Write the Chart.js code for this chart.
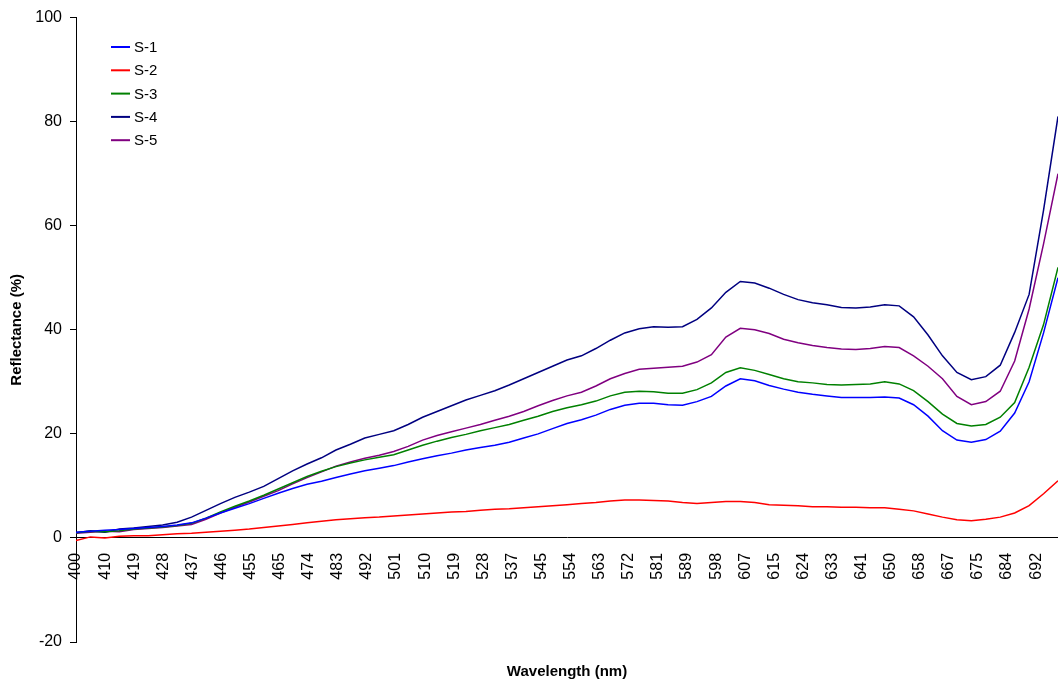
<!DOCTYPE html>
<html>
<head>
<meta charset="utf-8">
<title>Reflectance spectra</title>
<script src="https://cdn.jsdelivr.net/npm/chart.js@4.4.1/dist/chart.umd.min.js"></script>
<style>
  html, body { margin: 0; padding: 0; background: #fff; }
  #wrap { width: 1058px; height: 683px; }
</style>
</head>
<body>
<div id="wrap"><canvas id="spectra" width="1058" height="683"></canvas></div>
<script>
// wavelength labels printed under the axis, one per category step
const TICK_LABELS = [400, 410, 419, 428, 437, 446, 455, 465, 474, 483, 492, 501, 510, 519, 528, 537,
                     545, 554, 563, 572, 581, 589, 598, 607, 615, 624, 633, 641, 650, 658, 667, 675, 684, 692];
// samples run evenly from the first label to the right edge (a bit past 692)
const X_END = 33.75;

const SERIES_NAMES = ['S-1', 'S-2', 'S-3', 'S-4', 'S-5'];
const SERIES_COLORS = ['#0000ff', '#ff0000', '#008000', '#000080', '#800080'];

const S1 = [1.1, 1.3, 1.5, 1.6, 1.8, 2.0, 2.2, 2.5, 2.9, 3.8, 4.8, 5.7, 6.6, 7.6, 8.6, 9.5, 10.3, 10.9, 11.6, 12.3,
            12.9, 13.4, 13.9, 14.6, 15.2, 15.8, 16.3, 16.9, 17.4, 17.8, 18.4, 19.2, 20.0, 21.0, 22.0, 22.7, 23.6, 24.7,
            25.5, 25.9, 25.9, 25.6, 25.5, 26.2, 27.2, 29.2, 30.6, 30.2, 29.3, 28.6, 28.0, 27.6, 27.3, 27.0, 27.0, 27.0,
            27.1, 26.9, 25.6, 23.4, 20.6, 18.8, 18.4, 18.9, 20.5, 24.0, 30.0, 39.4, 50.0];
const S2 = [-0.5, 0.2, 0.0, 0.3, 0.4, 0.4, 0.6, 0.8, 0.9, 1.1, 1.3, 1.5, 1.7, 2.0, 2.3, 2.6, 2.9, 3.2, 3.5, 3.7,
            3.9, 4.0, 4.2, 4.4, 4.6, 4.8, 5.0, 5.1, 5.3, 5.5, 5.6, 5.8, 6.0, 6.2, 6.4, 6.6, 6.8, 7.1, 7.3, 7.3, 7.2,
            7.1, 6.8, 6.6, 6.8, 7.0, 7.0, 6.8, 6.4, 6.3, 6.2, 6.0, 6.0, 5.9, 5.9, 5.8, 5.8, 5.5, 5.2, 4.6, 4.0, 3.5,
            3.3, 3.6, 4.0, 4.8, 6.2, 8.5, 11.0];
const S3 = [1.0, 1.3, 1.2, 1.4, 1.7, 1.9, 2.1, 2.4, 2.8, 3.8, 5.0, 6.1, 7.1, 8.2, 9.4, 10.6, 11.8, 12.8, 13.7, 14.4,
            15.0, 15.5, 16.0, 16.9, 17.8, 18.6, 19.3, 19.9, 20.6, 21.2, 21.8, 22.6, 23.4, 24.3, 25.0, 25.6, 26.3, 27.3,
            28.0, 28.2, 28.1, 27.8, 27.8, 28.5, 29.8, 31.8, 32.7, 32.2, 31.4, 30.6, 30.0, 29.8, 29.5, 29.4, 29.5, 29.6,
            30.0, 29.6, 28.3, 26.2, 23.8, 22.0, 21.5, 21.8, 23.2, 26.0, 32.8, 41.0, 52.0];
const S4 = [1.0, 1.4, 1.1, 1.7, 1.9, 2.2, 2.5, 3.0, 4.0, 5.3, 6.6, 7.8, 8.8, 9.9, 11.4, 12.9, 14.2, 15.4, 16.9, 18.0,
            19.2, 19.9, 20.6, 21.8, 23.2, 24.3, 25.4, 26.5, 27.4, 28.3, 29.4, 30.6, 31.8, 33.0, 34.2, 35.0, 36.4, 38.0,
            39.4, 40.2, 40.6, 40.5, 40.6, 42.0, 44.2, 47.2, 49.3, 49.0, 48.0, 46.8, 45.8, 45.2, 44.8, 44.3, 44.2, 44.4,
            44.8, 44.6, 42.5, 39.0, 35.0, 31.8, 30.4, 31.0, 33.2, 39.5, 46.8, 63.0, 81.0];
const S5 = [0.9, 1.1, 1.3, 1.2, 1.6, 1.8, 2.0, 2.3, 2.6, 3.6, 4.8, 5.9, 6.9, 8.0, 9.1, 10.4, 11.6, 12.7, 13.8, 14.6,
            15.3, 15.9, 16.6, 17.6, 18.8, 19.7, 20.4, 21.1, 21.8, 22.6, 23.4, 24.3, 25.4, 26.4, 27.3, 28.0, 29.2, 30.6,
            31.6, 32.4, 32.6, 32.8, 33.0, 33.8, 35.2, 38.6, 40.3, 40.0, 39.3, 38.2, 37.5, 37.0, 36.6, 36.3, 36.2, 36.4,
            36.8, 36.6, 35.0, 33.0, 30.6, 27.2, 25.6, 26.2, 28.2, 34.0, 44.0, 56.5, 70.0];

const FONT = '"Liberation Sans", Arial, sans-serif';

function toPoints(vals) {
    return vals.map((y, i) => ({ x: i * X_END / (vals.length - 1), y: y }));
}

// axis titles + the small legend box inside the plot
const decorations = {
    id: 'decorations',
    afterDraw(chart) {
        const ctx = chart.ctx;
        const area = chart.chartArea;
        ctx.save();
        ctx.fillStyle = '#000';
        ctx.font = 'bold 15px ' + FONT;
        ctx.textAlign = 'center';
        ctx.textBaseline = 'middle';
        ctx.fillText('Wavelength (nm)', (area.left + area.right) / 2, 672);
        ctx.translate(17, (area.top + area.bottom) / 2);
        ctx.rotate(-Math.PI / 2);
        ctx.fillText('Reflectance (%)', 0, 0);
        ctx.restore();

        ctx.save();
        ctx.font = '15px ' + FONT;
        ctx.textAlign = 'left';
        ctx.textBaseline = 'middle';
        chart.data.datasets.forEach((ds, i) => {
            const y = 47 + i * 23.3;
            ctx.strokeStyle = ds.borderColor;
            ctx.lineWidth = 2;
            ctx.beginPath();
            ctx.moveTo(111, y);
            ctx.lineTo(130, y);
            ctx.stroke();
            ctx.fillStyle = '#000';
            ctx.fillText(ds.label, 134, y + 1);
        });
        ctx.restore();
    }
};

const seriesData = [S1, S2, S3, S4, S5];

new Chart(document.getElementById('spectra'), {
    type: 'line',
    data: {
        datasets: seriesData.map((vals, i) => ({
            label: SERIES_NAMES[i],
            data: toPoints(vals),
            borderColor: SERIES_COLORS[i],
            borderWidth: 1.5,
            pointRadius: 0,
            tension: 0,
            fill: false
        }))
    },
    options: {
        responsive: false,
        devicePixelRatio: 1,
        animation: false,
        layout: { padding: { top: 15, right: 0, bottom: 41, left: 0 } },
        plugins: { legend: { display: false }, tooltip: { enabled: false } },
        scales: {
            x: {
                type: 'linear',
                position: { y: 0 },
                min: 0,
                max: X_END,
                grid: { display: false },
                border: { display: true, color: '#000', width: 1 },
                ticks: {
                    stepSize: 1,
                    autoSkip: false,
                    includeBounds: false,
                    minRotation: 90,
                    maxRotation: 90,
                    padding: 7,
                    color: '#000',
                    font: { family: FONT, size: 16 },
                    callback: (v) => (Number.isInteger(v) && v < TICK_LABELS.length) ? String(TICK_LABELS[v]) : ''
                },
                // rotated labels shouldn't push the plot in from the right edge
                afterFit: (scale) => { scale.paddingLeft = 0; scale.paddingRight = 0; }
            },
            y: {
                min: -20,
                max: 100,
                grid: { drawOnChartArea: false, drawTicks: true, tickLength: 6, color: '#000' },
                border: { display: true, color: '#000', width: 1 },
                ticks: {
                    stepSize: 20,
                    padding: 8,
                    color: '#000',
                    font: { family: FONT, size: 16 }
                },
                afterFit: (scale) => { scale.width = 76; }
            }
        }
    },
    plugins: [decorations]
});
</script>
</body>
</html>
